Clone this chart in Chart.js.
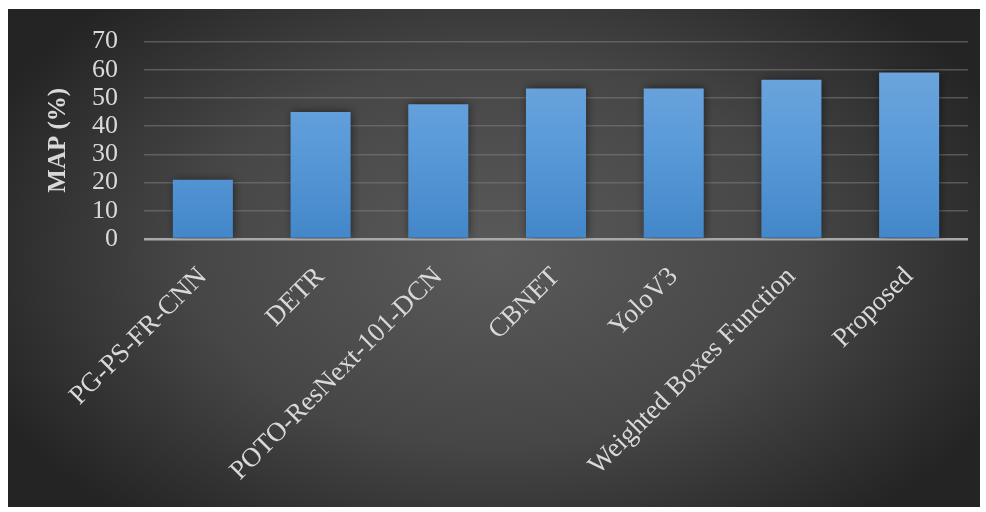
<!DOCTYPE html>
<html>
<head>
<meta charset="utf-8">
<script src="https://cdn.jsdelivr.net/npm/chart.js@4"></script>
<style>
  html, body { margin: 0; padding: 0; background: #fff; }
  #wrap { width: 986px; height: 512px; position: relative; }
</style>
</head>
<body>
<div id="wrap"><canvas id="chart"></canvas></div>
<script>
// mAP por método
const metodos = ['PG-PS-FR-CNN', 'DETR', 'POTO-ResNext-101-DCN', 'CBNET', 'YoloV3', 'Weighted Boxes Function', 'Proposed'];
const mapValores = [21, 45, 47.8, 53.4, 53.4, 56.5, 59];
const yTicks = [0, 10, 20, 30, 40, 50, 60, 70];

const textoGris = '#d9d9d9';
const serif = '"Liberation Serif", "Times New Roman", serif';

// fondo oscuro con degradado radial
const fondoPanel = {
    id: 'fondoPanel',
    beforeDraw(chart) {
        const c = chart.ctx;
        c.save();
        c.fillStyle = '#fff';
        c.fillRect(0, 0, chart.width, chart.height);
        const x0 = 8, y0 = 9, w = 972, h = 498;
        c.beginPath(); c.rect(x0, y0, w, h); c.clip();
        c.translate(495, 255);
        c.scale(1, 0.62);
        const g = c.createRadialGradient(0, 0, 0, 0, 0, 560);
        g.addColorStop(0, '#5a5a5a');
        g.addColorStop(0.55, '#464646');
        g.addColorStop(1, '#242424');
        c.fillStyle = g;
        c.fillRect(-600, -600, 1200, 1200);
        c.restore();
    }
};

// sombra suave de las barras
const sombraBarras = {
    id: 'sombraBarras',
    beforeDatasetDraw(chart) {
        const c = chart.ctx;
        c.save();
        c.shadowColor = 'rgba(0,0,0,0.55)';
        c.shadowBlur = 9;
        c.shadowOffsetX = 1;
    },
    afterDatasetDraw(chart) { chart.ctx.restore(); }
};

function degradadoBarra(ctx) {
    const area = ctx.chart.chartArea;
    if (!area) return '#5b9bd5';
    const g = ctx.chart.ctx.createLinearGradient(0, area.top, 0, area.bottom);
    g.addColorStop(0, '#74a8de');
    g.addColorStop(0.5, '#5b9bd9');
    g.addColorStop(1, '#4387c9');
    return g;
}

new Chart(document.getElementById('chart'), {
    type: 'bar',
    data: {
        labels: metodos,
        datasets: [{
            label: 'MAP (%)',
            data: mapValores,
            backgroundColor: degradadoBarra,
            borderWidth: 0,
            categoryPercentage: 1,
            barPercentage: 0.51
        }]
    },
    options: {
        responsive: true,
        maintainAspectRatio: false,
        animation: false,
        layout: { padding: { left: 0, top: 38, right: 18, bottom: 0 } },
        plugins: { legend: { display: false }, tooltip: { enabled: false } },
        scales: {
            x: {
                grid: { display: false },
                border: { display: false },
                ticks: {
                    color: textoGris,
                    font: { family: serif, size: 27 },
                    maxRotation: 45, minRotation: 45,
                    autoSkip: false,
                    padding: 14
                },
                afterFit: s => { s.height = 273; }
            },
            y: {
                min: 0, max: 70,
                afterBuildTicks: s => { s.ticks = yTicks.map(v => ({ value: v })); },
                border: { display: false },
                grid: {
                    drawTicks: false,
                    color: c => c.tick && c.tick.value === 0 ? '#a9a9a9' : 'rgba(125,125,125,0.55)',
                    lineWidth: c => c.tick && c.tick.value === 0 ? 2.5 : 1.5
                },
                ticks: {
                    color: textoGris,
                    font: { family: serif, size: 26 },
                    autoSkip: false,
                    padding: 26
                },
                title: {
                    display: true,
                    text: 'MAP (%)',
                    color: textoGris,
                    font: { family: serif, size: 25, weight: 'bold' },
                    padding: { top: 44, bottom: 0 }
                },
                afterFit: s => { s.width = 144; }
            }
        }
    },
    plugins: [fondoPanel, sombraBarras]
});
</script>
</body>
</html>
